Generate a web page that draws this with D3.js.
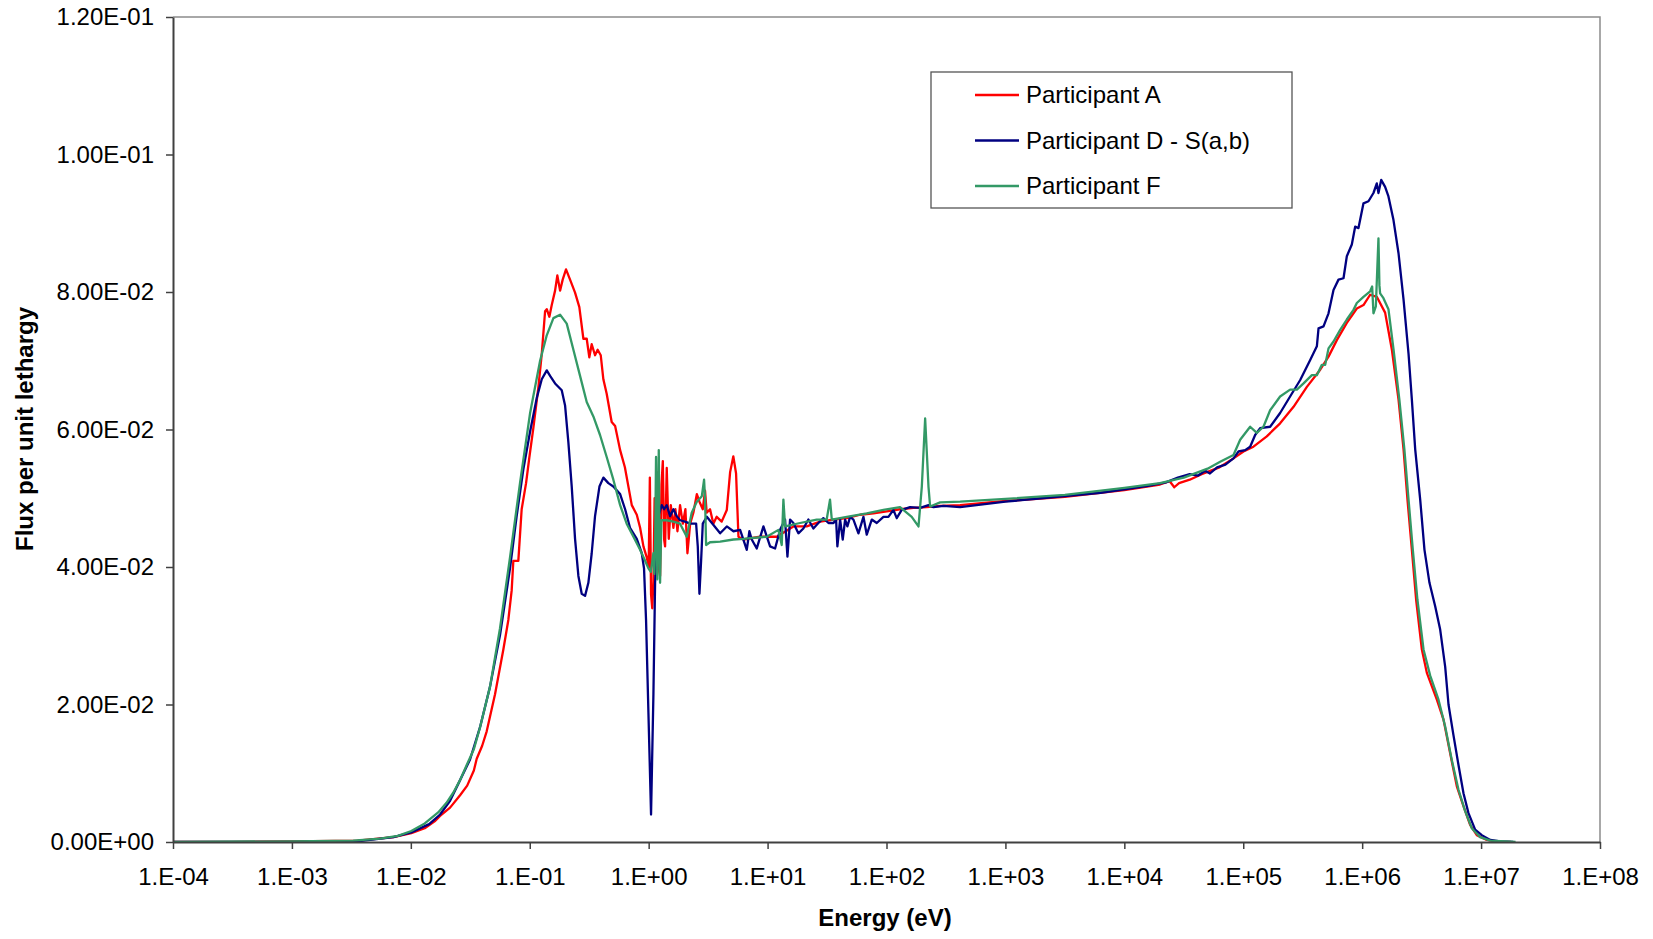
<!DOCTYPE html>
<html>
<head>
<meta charset="utf-8">
<script src="https://cdn.jsdelivr.net/npm/d3@7"></script>
<style>
  html, body { margin: 0; padding: 0; background: #fff; }
  svg { display: block; font-family: "Liberation Sans", Arial, sans-serif; }
</style>
</head>
<body>
<svg id="chart" width="1653" height="939"></svg>
<script>
// Axis ticks
const xTickValues = [1e-4, 1e-3, 1e-2, 1e-1, 1e0, 1e1, 1e2, 1e3, 1e4, 1e5, 1e6, 1e7, 1e8];
const xTickLabels = ["1.E-04", "1.E-03", "1.E-02", "1.E-01", "1.E+00", "1.E+01", "1.E+02",
                     "1.E+03", "1.E+04", "1.E+05", "1.E+06", "1.E+07", "1.E+08"];
const yTickValues = [0, 0.02, 0.04, 0.06, 0.08, 0.10, 0.12];
const yTickLabels = ["0.00E+00", "2.00E-02", "4.00E-02", "6.00E-02", "8.00E-02", "1.00E-01", "1.20E-01"];

const seriesNames = ["Participant A", "Participant D - S(a,b)", "Participant F"];

// Participant A: log10(energy / eV) and flux per unit lethargy
const logEnergyA = [-4.0, -3.5, -3.0, -2.447, -2.146, -1.996, -1.883, -1.80, -1.754, -1.670, -1.586, -1.526, -1.470, -1.446, -1.40, -1.362, -1.292, -1.222, -1.180, -1.152, -1.138, -1.096, -1.068, -1.031, -1.003, -0.969, -0.927, -0.899, -0.871, -0.857, -0.835, -0.815, -0.787, -0.768, -0.745, -0.723, -0.695, -0.661, -0.619, -0.583, -0.549, -0.521, -0.499, -0.479, -0.451, -0.429, -0.403, -0.381, -0.353, -0.311, -0.282, -0.240, -0.200, -0.142, -0.100, -0.072, -0.044, -0.016, 0.000, 0.010, 0.020, 0.030, 0.040, 0.050, 0.060, 0.068, 0.082, 0.096, 0.108, 0.119, 0.130, 0.138, 0.152, 0.169, 0.186, 0.200, 0.208, 0.225, 0.242, 0.264, 0.287, 0.309, 0.326, 0.349, 0.376, 0.405, 0.427, 0.455, 0.474, 0.488, 0.516, 0.544, 0.572, 0.614, 0.657, 0.685, 0.712, 0.735, 0.755, 0.797, 0.937, 1.077, 1.217, 1.329, 1.442, 1.554, 1.666, 1.778, 1.890, 2.002, 2.114, 2.226, 2.339, 2.451, 2.619, 3.0, 3.5, 4.0, 4.3, 4.38, 4.42, 4.46, 4.55, 4.65, 4.8, 4.918, 5.002, 5.086, 5.198, 5.310, 5.423, 5.535, 5.647, 5.717, 5.787, 5.871, 5.955, 6.011, 6.067, 6.123, 6.193, 6.250, 6.306, 6.348, 6.381, 6.418, 6.454, 6.502, 6.544, 6.628, 6.684, 6.740, 6.796, 6.852, 6.908, 6.964, 7.048, 7.161, 7.25];
const fluxA = [0, 0.0000, 0.0001, 0.0002, 0.0007, 0.0013, 0.0020, 0.0030, 0.0038, 0.0050, 0.0068, 0.0082, 0.0104, 0.0121, 0.0140, 0.0161, 0.0215, 0.0280, 0.0323, 0.0366, 0.0409, 0.0409, 0.0484, 0.0522, 0.0560, 0.0603, 0.0662, 0.0710, 0.0772, 0.0775, 0.0764, 0.0781, 0.0802, 0.0824, 0.0802, 0.0818, 0.0833, 0.0818, 0.0799, 0.0778, 0.0732, 0.0732, 0.0705, 0.0724, 0.0708, 0.0716, 0.0708, 0.0673, 0.0652, 0.0611, 0.0605, 0.0570, 0.0545, 0.0490, 0.0476, 0.0457, 0.0430, 0.0414, 0.0400, 0.0530, 0.0360, 0.0340, 0.0380, 0.0500, 0.0420, 0.0538, 0.0400, 0.0387, 0.0520, 0.0554, 0.0440, 0.0430, 0.0544, 0.0441, 0.0490, 0.0470, 0.0457, 0.0484, 0.0452, 0.0490, 0.0463, 0.0484, 0.0420, 0.0463, 0.0479, 0.0506, 0.0495, 0.0484, 0.0511, 0.0479, 0.0484, 0.0463, 0.0473, 0.0466, 0.0483, 0.0538, 0.0561, 0.0536, 0.0444, 0.0440, 0.0444, 0.0444, 0.0459, 0.0459, 0.0466, 0.0469, 0.0471, 0.0476, 0.0478, 0.0481, 0.0484, 0.0486, 0.0487, 0.0489, 0.0490, 0.0496, 0.0502, 0.0512, 0.0520, 0.0525, 0.0516, 0.0522, 0.0527, 0.0535, 0.0545, 0.0558, 0.0568, 0.0575, 0.0590, 0.0609, 0.0633, 0.0662, 0.0687, 0.0706, 0.0730, 0.0755, 0.0776, 0.0781, 0.0796, 0.0793, 0.0770, 0.0716, 0.0643, 0.0571, 0.0498, 0.0425, 0.0352, 0.0280, 0.0246, 0.0207, 0.0178, 0.0129, 0.0081, 0.0052, 0.0025, 0.0010, 0.0003, 0.0000, 0.0000];

// Participant D - S(a,b)
const logEnergyD = [-4.0, -3.0, -2.447, -2.146, -1.996, -1.846, -1.754, -1.670, -1.586, -1.502, -1.418, -1.334, -1.250, -1.166, -1.110, -1.053, -0.997, -0.941, -0.899, -0.857, -0.829, -0.787, -0.731, -0.703, -0.675, -0.647, -0.619, -0.591, -0.563, -0.535, -0.507, -0.479, -0.451, -0.414, -0.381, -0.339, -0.297, -0.240, -0.198, -0.157, -0.100, -0.058, -0.039, -0.022, -0.002, 0.020, 0.040, 0.054, 0.082, 0.110, 0.130, 0.152, 0.180, 0.208, 0.236, 0.264, 0.306, 0.349, 0.399, 0.413, 0.427, 0.441, 0.455, 0.489, 0.545, 0.601, 0.657, 0.713, 0.769, 0.825, 0.847, 0.867, 0.909, 0.965, 1.021, 1.063, 1.105, 1.147, 1.167, 1.189, 1.217, 1.259, 1.301, 1.343, 1.385, 1.427, 1.469, 1.512, 1.554, 1.576, 1.587, 1.610, 1.632, 1.652, 1.671, 1.694, 1.722, 1.764, 1.806, 1.834, 1.876, 1.918, 1.974, 2.016, 2.058, 2.086, 2.128, 2.198, 2.283, 2.353, 2.395, 2.479, 2.619, 3.0, 3.3, 3.5, 3.8, 4.0, 4.2, 4.35, 4.45, 4.55, 4.62, 4.68, 4.72, 4.78, 4.85, 4.918, 4.960, 5.016, 5.058, 5.100, 5.142, 5.226, 5.310, 5.394, 5.479, 5.563, 5.619, 5.633, 5.675, 5.717, 5.759, 5.801, 5.843, 5.871, 5.913, 5.941, 5.969, 6.011, 6.053, 6.095, 6.123, 6.137, 6.160, 6.193, 6.221, 6.263, 6.306, 6.348, 6.390, 6.418, 6.446, 6.488, 6.524, 6.566, 6.614, 6.656, 6.698, 6.726, 6.768, 6.810, 6.852, 6.894, 6.950, 7.006, 7.077, 7.161, 7.27];
const fluxD = [0, 0.0000, 0.0001, 0.0007, 0.0014, 0.0026, 0.0040, 0.0060, 0.0090, 0.0120, 0.0167, 0.0226, 0.0301, 0.0398, 0.0474, 0.0543, 0.0597, 0.0646, 0.0673, 0.0686, 0.0678, 0.0667, 0.0657, 0.0635, 0.0581, 0.0517, 0.0441, 0.0387, 0.0361, 0.0358, 0.0377, 0.0420, 0.0474, 0.0517, 0.0530, 0.0522, 0.0517, 0.0506, 0.0484, 0.0457, 0.0441, 0.0420, 0.0398, 0.0323, 0.0188, 0.0040, 0.0215, 0.0377, 0.0474, 0.0490, 0.0484, 0.0490, 0.0474, 0.0484, 0.0474, 0.0468, 0.0466, 0.0463, 0.0463, 0.0430, 0.0361, 0.0409, 0.0463, 0.0473, 0.0461, 0.0449, 0.0459, 0.0452, 0.0454, 0.0425, 0.0452, 0.0440, 0.0427, 0.0459, 0.0430, 0.0427, 0.0454, 0.0469, 0.0415, 0.0469, 0.0464, 0.0449, 0.0456, 0.0469, 0.0456, 0.0464, 0.0471, 0.0464, 0.0464, 0.0469, 0.0430, 0.0469, 0.0440, 0.0469, 0.0459, 0.0473, 0.0469, 0.0449, 0.0473, 0.0447, 0.0469, 0.0464, 0.0473, 0.0473, 0.0483, 0.0471, 0.0483, 0.0487, 0.0486, 0.0490, 0.0487, 0.0489, 0.0487, 0.0495, 0.0500, 0.0503, 0.0508, 0.0513, 0.0518, 0.0523, 0.0530, 0.0535, 0.0533, 0.0540, 0.0536, 0.0545, 0.0549, 0.0558, 0.0568, 0.0570, 0.0575, 0.0592, 0.0602, 0.0604, 0.0624, 0.0648, 0.0672, 0.0701, 0.0721, 0.0747, 0.0750, 0.0769, 0.0803, 0.0818, 0.0820, 0.0852, 0.0869, 0.0895, 0.0893, 0.0929, 0.0932, 0.0944, 0.0958, 0.0944, 0.0963, 0.0953, 0.0939, 0.0905, 0.0856, 0.0789, 0.0710, 0.0643, 0.0571, 0.0498, 0.0425, 0.0377, 0.0343, 0.0309, 0.0255, 0.0200, 0.0155, 0.0112, 0.0071, 0.0042, 0.0018, 0.0010, 0.0003, 0.0001, 0.0000];

// Participant F
const logEnergyF = [-4.0, -3.011, -2.485, -2.259, -2.109, -1.996, -1.883, -1.770, -1.700, -1.642, -1.586, -1.530, -1.470, -1.418, -1.334, -1.250, -1.166, -1.082, -0.997, -0.913, -0.857, -0.801, -0.745, -0.689, -0.633, -0.577, -0.521, -0.465, -0.409, -0.353, -0.297, -0.240, -0.185, -0.128, -0.072, -0.030, -0.002, 0.018, 0.040, 0.048, 0.055, 0.062, 0.068, 0.073, 0.079, 0.085, 0.090, 0.096, 0.107, 0.152, 0.208, 0.264, 0.320, 0.362, 0.405, 0.447, 0.466, 0.474, 0.483, 0.516, 0.601, 0.713, 0.797, 0.853, 0.993, 1.091, 1.119, 1.133, 1.147, 1.273, 1.413, 1.497, 1.525, 1.540, 1.666, 1.834, 1.974, 2.114, 2.212, 2.269, 2.297, 2.325, 2.353, 2.367, 2.451, 2.619, 3.0, 3.5, 4.0, 4.3, 4.5, 4.7, 4.806, 4.918, 4.974, 5.058, 5.114, 5.170, 5.226, 5.310, 5.394, 5.451, 5.507, 5.577, 5.619, 5.661, 5.689, 5.717, 5.759, 5.815, 5.871, 5.927, 5.955, 6.011, 6.067, 6.084, 6.095, 6.115, 6.137, 6.145, 6.151, 6.179, 6.221, 6.264, 6.313, 6.355, 6.390, 6.426, 6.465, 6.516, 6.572, 6.642, 6.698, 6.754, 6.810, 6.866, 6.922, 6.992, 7.077, 7.29];
const fluxF = [0, 0.0001, 0.0002, 0.0005, 0.0009, 0.0016, 0.0027, 0.0043, 0.0057, 0.0072, 0.0090, 0.0112, 0.0135, 0.0167, 0.0226, 0.0311, 0.0414, 0.0522, 0.0624, 0.0700, 0.0737, 0.0762, 0.0767, 0.0754, 0.0716, 0.0678, 0.0640, 0.0619, 0.0592, 0.0560, 0.0527, 0.0490, 0.0463, 0.0444, 0.0425, 0.0409, 0.0398, 0.0393, 0.0420, 0.0390, 0.0440, 0.0560, 0.0450, 0.0382, 0.0480, 0.0570, 0.0460, 0.0377, 0.0468, 0.0468, 0.0466, 0.0463, 0.0444, 0.0479, 0.0495, 0.0503, 0.0527, 0.0500, 0.0432, 0.0436, 0.0437, 0.0440, 0.0441, 0.0442, 0.0444, 0.0454, 0.0432, 0.0498, 0.0459, 0.0464, 0.0469, 0.0469, 0.0498, 0.0469, 0.0473, 0.0478, 0.0483, 0.0487, 0.0473, 0.0459, 0.0517, 0.0616, 0.0517, 0.0488, 0.0494, 0.0495, 0.0499, 0.0505, 0.0515, 0.0522, 0.0530, 0.0543, 0.0553, 0.0563, 0.0585, 0.0604, 0.0595, 0.0604, 0.0628, 0.0648, 0.0658, 0.0658, 0.0667, 0.0679, 0.0679, 0.0694, 0.0694, 0.0718, 0.0728, 0.0745, 0.0760, 0.0774, 0.0784, 0.0793, 0.0801, 0.0808, 0.0769, 0.0779, 0.0878, 0.0810, 0.0798, 0.0791, 0.0775, 0.0716, 0.0643, 0.0571, 0.0498, 0.0425, 0.0352, 0.0280, 0.0242, 0.0207, 0.0168, 0.0119, 0.0076, 0.0045, 0.0020, 0.0007, 0.0002, 0.0000];

const seriesColors = ["#ff0000", "#000080", "#339966"];

// ---- layout ----
const svg = d3.select("#chart");
const plotLeft = 173, plotRight = 1600, plotTop = 17, plotBottom = 842;

const x = d3.scaleLog().domain([1e-4, 1e8]).range([plotLeft, plotRight]);
const y = d3.scaleLinear().domain([0, 0.12]).range([plotBottom, plotTop]);

const toPoints = (logE, flux) => logE.map((l, i) => ({ e: Math.pow(10, l), v: flux[i] }));
const series = [
  toPoints(logEnergyA, fluxA),
  toPoints(logEnergyD, fluxD),
  toPoints(logEnergyF, fluxF)
];

svg.append("defs").append("clipPath").attr("id", "plotClip")
  .append("rect").attr("x", plotLeft).attr("y", plotTop - 2)
  .attr("width", plotRight - plotLeft).attr("height", plotBottom - plotTop + 2);

// plot area border (top and right)
svg.append("path")
  .attr("d", `M${plotLeft},${plotTop}H${plotRight}V${plotBottom}`)
  .attr("fill", "none").attr("stroke", "#8c8c8c").attr("stroke-width", 1.5);

// series lines
const line = d3.line().x(d => x(d.e)).y(d => y(d.v));
svg.append("g").attr("clip-path", "url(#plotClip)")
  .selectAll("path").data(series).join("path")
  .attr("d", line)
  .attr("fill", "none")
  .attr("stroke", (d, i) => seriesColors[i])
  .attr("stroke-width", 2.3)
  .attr("stroke-linejoin", "round");

// x axis
const xAxis = d3.axisBottom(x).tickValues(xTickValues)
  .tickFormat((d, i) => xTickLabels[i]).tickSize(7).tickSizeOuter(0);
const gx = svg.append("g").attr("transform", `translate(0,${plotBottom})`).call(xAxis);
gx.select(".domain").attr("stroke", "#404040").attr("stroke-width", 2);
gx.selectAll(".tick line").attr("stroke", "#404040").attr("stroke-width", 1.5);
gx.selectAll(".tick text").attr("font-size", 24).attr("fill", "#000")
  .attr("font-family", "Liberation Sans, Arial, sans-serif").attr("y", 35).attr("dy", "0.35em");

// y axis
const yAxis = d3.axisLeft(y).tickValues(yTickValues)
  .tickFormat((d, i) => yTickLabels[i]).tickSize(7).tickSizeOuter(0);
const gy = svg.append("g").attr("transform", `translate(${plotLeft},0)`).call(yAxis);
gy.select(".domain").attr("stroke", "#404040").attr("stroke-width", 2);
gy.selectAll(".tick line").attr("stroke", "#404040").attr("stroke-width", 1.5);
gy.selectAll(".tick text").attr("font-size", 24).attr("fill", "#000")
  .attr("font-family", "Liberation Sans, Arial, sans-serif").attr("x", -19);

// axis titles
svg.append("text")
  .attr("x", 885).attr("y", 918).attr("dy", "0.35em")
  .attr("text-anchor", "middle").attr("font-size", 24).attr("font-weight", "bold")
  .text("Energy (eV)");
svg.append("text")
  .attr("transform", "translate(25,429) rotate(-90)").attr("dy", "0.35em")
  .attr("text-anchor", "middle").attr("font-size", 24).attr("font-weight", "bold")
  .text("Flux per unit lethargy");

// legend
const legend = svg.append("g");
legend.append("rect")
  .attr("x", 931).attr("y", 72).attr("width", 361).attr("height", 136)
  .attr("fill", "#fff").attr("stroke", "#555").attr("stroke-width", 1.3);
const rows = legend.selectAll("g.row").data(seriesNames).join("g")
  .attr("class", "row")
  .attr("transform", (d, i) => `translate(0,${95 + i * 45.5})`);
rows.append("line")
  .attr("x1", 975).attr("x2", 1019)
  .attr("stroke", (d, i) => seriesColors[i]).attr("stroke-width", 2.3);
rows.append("text")
  .attr("x", 1026).attr("dy", "0.35em").attr("font-size", 24)
  .text(d => d);
</script>
</body>
</html>
